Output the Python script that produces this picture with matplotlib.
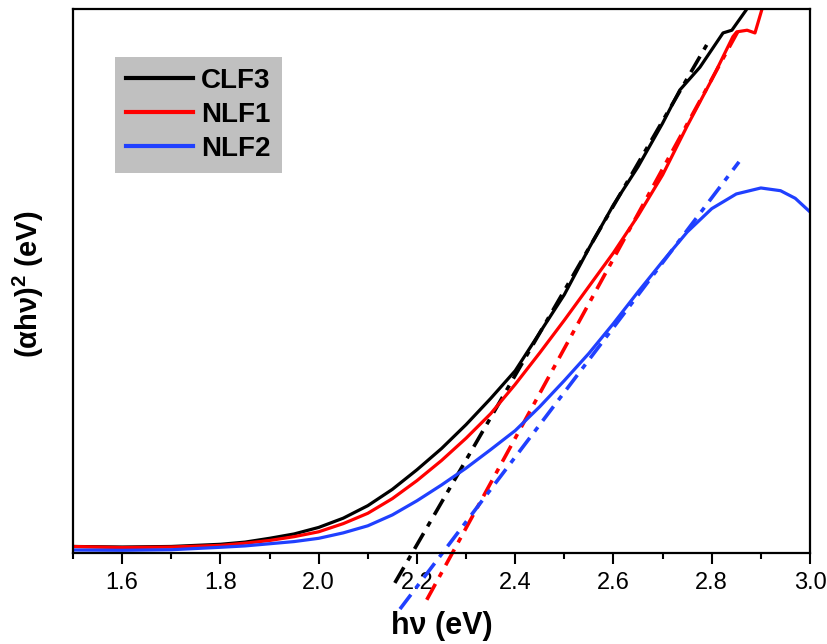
import matplotlib
matplotlib.use("Agg")
import matplotlib.pyplot as plt
from matplotlib.ticker import MultipleLocator

# photon energy (eV) and (alpha h nu)^2 in arbitrary units
clf3_x = [1.50, 1.60, 1.70, 1.80, 1.85, 1.90, 1.95, 2.00, 2.05, 2.10, 2.15,
          2.20, 2.25, 2.30, 2.35, 2.40, 2.45, 2.50, 2.55, 2.60, 2.65, 2.70,
          2.735, 2.776, 2.823, 2.841, 2.870, 2.89]
clf3_y = [1.2, 1.1, 1.2, 1.6, 2.0, 2.7, 3.5, 4.7, 6.4, 8.7, 11.7,
          15.3, 19.2, 23.6, 28.4, 33.5, 40.5, 47.5, 56.0, 64.0, 71.0, 79.0,
          85.1, 89.3, 95.6, 96.1, 99.8, 103]

nlf1_x = [1.50, 1.60, 1.70, 1.80, 1.85, 1.90, 1.95, 2.00, 2.05, 2.10, 2.15,
          2.20, 2.25, 2.30, 2.35, 2.40, 2.45, 2.50, 2.55, 2.60, 2.65, 2.70,
          2.75, 2.80, 2.843, 2.851, 2.872, 2.888, 2.904, 2.92]
nlf1_y = [1.2, 1.0, 1.1, 1.4, 1.8, 2.3, 3.0, 3.9, 5.4, 7.3, 10.0,
          13.3, 17.0, 21.1, 25.6, 31.0, 36.8, 42.8, 49.0, 55.2, 62.0, 69.5,
          78.5, 87.0, 94.9, 95.8, 96.1, 95.6, 100.5, 104]

nlf2_x = [1.50, 1.60, 1.70, 1.80, 1.85, 1.90, 1.95, 2.00, 2.05, 2.10, 2.15,
          2.20, 2.25, 2.30, 2.35, 2.40, 2.45, 2.50, 2.55, 2.60, 2.65, 2.70,
          2.75, 2.80, 2.85, 2.90, 2.94, 2.97, 3.00]
nlf2_y = [0.55, 0.5, 0.6, 1.05, 1.3, 1.7, 2.1, 2.7, 3.7, 5.0, 7.0,
          9.6, 12.5, 15.6, 19.0, 22.5, 26.9, 31.7, 36.7, 42.2, 48.0, 53.6,
          59.0, 63.3, 66.0, 67.1, 66.6, 65.2, 62.7]

# linear extrapolations (start/end points)
fit_clf3_x = [2.155, 2.792]
fit_clf3_y = [-5.5, 93.75]
fit_nlf1_x = [2.22, 2.86]
fit_nlf1_y = [-8.6, 97.0]
fit_nlf2_x = [2.1655, 2.8555]
fit_nlf2_y = [-10.3, 71.9]

names = ["CLF3", "NLF1", "NLF2"]
colors = ["black", "#ff0000", "#2040ff"]

plt.rcParams['font.family'] = ['Liberation Sans', 'DejaVu Sans']
plt.rcParams['mathtext.fontset'] = 'custom'
plt.rcParams['mathtext.bf'] = 'Liberation Sans:bold'
plt.rcParams['mathtext.rm'] = 'Liberation Sans'

fig = plt.figure(figsize=(8.28, 6.44), dpi=100)
ax = fig.add_axes([73/828, 1 - 553/644, 737/828, 544/644])

dd = (0, (5, 2.2, 1.5, 2.2))
for xs, ys, fx, fy, c, n in zip([clf3_x, nlf1_x, nlf2_x], [clf3_y, nlf1_y, nlf2_y],
                               [fit_clf3_x, fit_nlf1_x, fit_nlf2_x],
                               [fit_clf3_y, fit_nlf1_y, fit_nlf2_y], colors, names):
    ax.plot(xs, ys, color=c, lw=2.3, label=n)
    ax.plot(fx, fy, color=c, lw=2.6, linestyle=dd, clip_on=False)

ax.set_xlim(1.5, 3.0)
ax.set_ylim(0, 100)
ax.set_xticks([1.6, 1.8, 2.0, 2.2, 2.4, 2.6, 2.8, 3.0])
ax.set_xticklabels(["1.6", "1.8", "2.0", "2.2", "2.4", "2.6", "2.8", "3.0"])
ax.xaxis.set_minor_locator(MultipleLocator(0.1))
ax.tick_params(axis='x', which='major', direction='out', length=8, width=1.5,
               labelsize=17, pad=6)
ax.tick_params(axis='x', which='minor', direction='out', length=4, width=1.5)
ax.set_yticks([])
for s in ax.spines.values():
    s.set_linewidth(1.6)

ax.set_xlabel("hν (eV)", fontsize=22, fontweight='bold', labelpad=12)
ax.set_ylabel(r"(αhν)$\mathbf{^{2}}$ (eV)", fontsize=21, fontweight='bold')
ax.yaxis.set_label_coords(-27/737, 0.494)

leg = ax.legend(loc='upper left', bbox_to_anchor=(0.057, 0.912), fontsize=20,
                frameon=True, fancybox=False, borderaxespad=0, borderpad=0.4,
                handlelength=2.4, handletextpad=0.3, labelspacing=0.28)
leg.get_frame().set_facecolor('#c0c0c0')
leg.get_frame().set_edgecolor('none')
leg.get_frame().set_alpha(1)
for t in leg.get_texts():
    t.set_fontweight('bold')
for h in leg.get_lines():
    h.set_linewidth(3)

fig.savefig("out.png", dpi=100)
